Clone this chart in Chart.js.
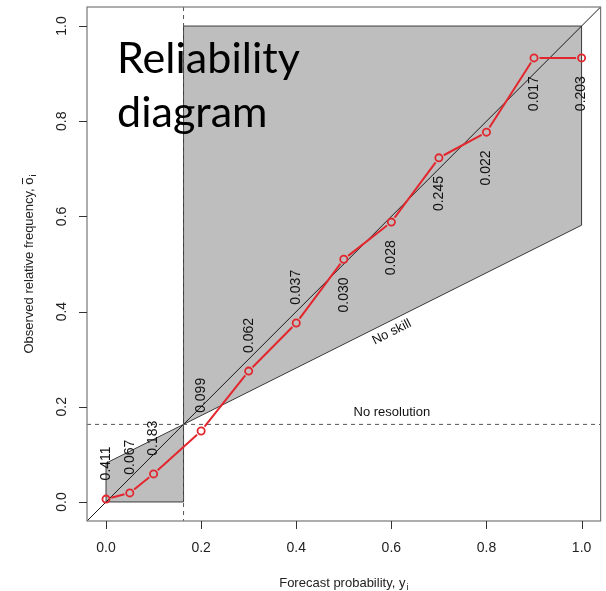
<!DOCTYPE html>
<html>
<head>
<meta charset="utf-8">
<script src="https://cdn.jsdelivr.net/npm/chart.js@4"></script>
<style>
  html, body { margin: 0; padding: 0; background: #fff; }
</style>
</head>
<body>
<canvas id="chart" width="606" height="591"></canvas>
<script>
// 数据：预报概率分箱、观测频率、各箱样本占比
const forecastProb = [0, 0.05, 0.1, 0.2, 0.3, 0.4, 0.5, 0.6, 0.7, 0.8, 0.9, 1.0];
const observedFreq = [0.006, 0.019, 0.059, 0.149, 0.275, 0.376, 0.510, 0.588, 0.723, 0.777, 0.933, 0.933];
const binShares = ['0.411', '0.067', '0.183', '0.099', '0.062', '0.037', '0.030', '0.028', '0.245', '0.022', '0.017', '0.203'];
const climatology = 0.163;
const tickValues = [0, 0.2, 0.4, 0.6, 0.8, 1.0];
const tickLabels = ['0.0', '0.2', '0.4', '0.6', '0.8', '1.0'];

const axisMin = -0.04, axisMax = 1.04;
const RED = '#e3262d';
const AXIS_FONT = '14px "Liberation Sans", Arial, sans-serif';
const SMALL_FONT = '13px "Liberation Sans", Arial, sans-serif';

const noSkill = x => (x + climatology) / 2;

// 画标签（带下标）
function drawSubText(ctx, main, sub, cx, cy, overlineLast) {
  ctx.font = SMALL_FONT;
  const wMain = ctx.measureText(main).width;
  ctx.font = '9px "Liberation Sans", Arial, sans-serif';
  const wSub = ctx.measureText(sub).width;
  let x0 = cx - (wMain + wSub + 1) / 2;
  ctx.textAlign = 'left';
  ctx.textBaseline = 'alphabetic';
  ctx.font = SMALL_FONT;
  ctx.fillText(main, x0, cy);
  if (overlineLast) {
    const wLast = ctx.measureText(main.slice(-1)).width;
    ctx.fillRect(x0 + wMain - wLast + 0.5, cy - 11, wLast - 1, 1);
  }
  ctx.font = '9px "Liberation Sans", Arial, sans-serif';
  ctx.fillText(sub, x0 + wMain + 1, cy + 3);
}

const decor = {
  id: 'decor',
  beforeDatasetsDraw(chart) {
    const { ctx, chartArea: a, scales: { x, y } } = chart;
    const px = v => x.getPixelForValue(v);
    const py = v => y.getPixelForValue(v);
    ctx.save();

    // 灰色技巧区域
    const polys = [
      [[0, 0], [0, noSkill(0)], [climatology, climatology], [climatology, 0]],
      [[climatology, climatology], [climatology, 1], [1, 1], [1, noSkill(1)]],
    ];
    ctx.fillStyle = '#bebebe';
    ctx.strokeStyle = '#3a3a3a';
    ctx.lineWidth = 1;
    polys.forEach(p => {
      ctx.beginPath();
      p.forEach(([vx, vy], i) => i ? ctx.lineTo(px(vx), py(vy)) : ctx.moveTo(px(vx), py(vy)));
      ctx.closePath();
      ctx.fill();
      ctx.stroke();
    });

    ctx.beginPath();
    ctx.rect(a.left, a.top, a.width, a.height);
    ctx.clip();

    // 对角线
    ctx.strokeStyle = '#1a1a1a';
    ctx.beginPath();
    ctx.moveTo(px(axisMin), py(axisMin));
    ctx.lineTo(px(axisMax), py(axisMax));
    ctx.stroke();

    // 气候态虚线
    ctx.setLineDash([4, 4]);
    ctx.strokeStyle = '#555';
    ctx.beginPath();
    ctx.moveTo(px(climatology), a.top);
    ctx.lineTo(px(climatology), a.bottom);
    ctx.stroke();
    ctx.beginPath();
    ctx.moveTo(a.left, py(climatology));
    ctx.lineTo(a.right, py(climatology));
    ctx.stroke();
    ctx.setLineDash([]);

    // 注释文字
    ctx.fillStyle = '#111';
    ctx.font = SMALL_FONT;
    ctx.textAlign = 'center';
    ctx.textBaseline = 'middle';
    ctx.fillText('No resolution', px(0.601), py(0.189));
    ctx.save();
    ctx.translate(px(0.601), py(0.357));
    ctx.rotate(-Math.atan(0.5));
    ctx.fillText('No skill', 0, 0);
    ctx.restore();

    // 红线（点与线之间留空）
    const gap = 5.5;
    ctx.strokeStyle = RED;
    ctx.lineWidth = 2;
    for (let i = 0; i < forecastProb.length - 1; i++) {
      const x1 = px(forecastProb[i]), y1 = py(observedFreq[i]);
      const x2 = px(forecastProb[i + 1]), y2 = py(observedFreq[i + 1]);
      const d = Math.hypot(x2 - x1, y2 - y1);
      if (d <= gap * 2) continue;
      const ux = (x2 - x1) / d, uy = (y2 - y1) / d;
      ctx.beginPath();
      ctx.moveTo(x1 + ux * gap, y1 + uy * gap);
      ctx.lineTo(x2 - ux * gap, y2 - uy * gap);
      ctx.stroke();
    }
    ctx.restore();
  },
  afterDatasetsDraw(chart) {
    const { ctx, chartArea: a, scales: { x, y } } = chart;
    const px = v => x.getPixelForValue(v);
    const py = v => y.getPixelForValue(v);
    ctx.save();

    // 各箱占比标签（竖排）
    ctx.fillStyle = '#111';
    ctx.font = AXIS_FONT;
    ctx.textAlign = 'center';
    ctx.textBaseline = 'middle';
    binShares.forEach((s, i) => {
      const off = forecastProb[i] < 0.45 ? 0.075 : -0.075;
      ctx.save();
      ctx.translate(px(forecastProb[i]), py(observedFreq[i] + off));
      ctx.rotate(-Math.PI / 2);
      ctx.fillText(s, 0, 0);
      ctx.restore();
    });

    // 边框
    ctx.strokeStyle = '#777';
    ctx.lineWidth = 1.2;
    ctx.strokeRect(a.left, a.top, a.width, a.height);

    // 刻度
    ctx.strokeStyle = '#333';
    ctx.lineWidth = 1;
    ctx.fillStyle = '#222';
    ctx.font = AXIS_FONT;
    tickValues.forEach((v, i) => {
      const tx = Math.round(px(v)) + 0.5;
      ctx.beginPath();
      ctx.moveTo(tx, a.bottom);
      ctx.lineTo(tx, a.bottom + 8);
      ctx.stroke();
      ctx.textAlign = 'center';
      ctx.textBaseline = 'middle';
      ctx.fillText(tickLabels[i], px(v), a.bottom + 27);

      const ty = Math.round(py(v)) + 0.5;
      ctx.beginPath();
      ctx.moveTo(a.left - 8, ty);
      ctx.lineTo(a.left, ty);
      ctx.stroke();
      ctx.save();
      ctx.translate(a.left - 25, py(v));
      ctx.rotate(-Math.PI / 2);
      ctx.fillText(tickLabels[i], 0, 0);
      ctx.restore();
    });

    // 坐标轴标题
    ctx.fillStyle = '#222';
    drawSubText(ctx, 'Forecast probability, y', 'i', px(0.5), a.bottom + 66, false);
    ctx.save();
    ctx.translate(a.left - 58, py(0.5));
    ctx.rotate(-Math.PI / 2);
    drawSubText(ctx, 'Observed relative frequency, o', 'i', 0, 4, true);
    ctx.restore();

    // 大标题
    ctx.fillStyle = '#000';
    ctx.textAlign = 'left';
    ctx.textBaseline = 'alphabetic';
    let size = 40;
    ctx.font = `${size}px Lato, "Open Sans", sans-serif`;
    size = size * 183 / ctx.measureText('Reliability').width;
    ctx.font = `${size}px Lato, "Open Sans", sans-serif`;
    ctx.fillText('Reliability', 117, 73);
    ctx.fillText('diagram', 117, 127);
    ctx.restore();
  },
};

new Chart(document.getElementById('chart'), {
  type: 'scatter',
  data: {
    datasets: [{
      data: forecastProb.map((v, i) => ({ x: v, y: observedFreq[i] })),
      showLine: false,
      pointRadius: 3.6,
      pointBorderWidth: 1.8,
      pointBorderColor: RED,
      pointBackgroundColor: 'rgba(0,0,0,0)',
      pointHoverRadius: 3.6,
    }],
  },
  options: {
    responsive: false,
    animation: false,
    devicePixelRatio: 1,
    layout: { padding: { left: 87, top: 7, right: 5, bottom: 70 } },
    plugins: {
      legend: { display: false },
      tooltip: { enabled: false },
    },
    scales: {
      x: { type: 'linear', min: axisMin, max: axisMax, display: false },
      y: { type: 'linear', min: axisMin, max: axisMax, display: false },
    },
  },
  plugins: [decor],
});
</script>
</body>
</html>
